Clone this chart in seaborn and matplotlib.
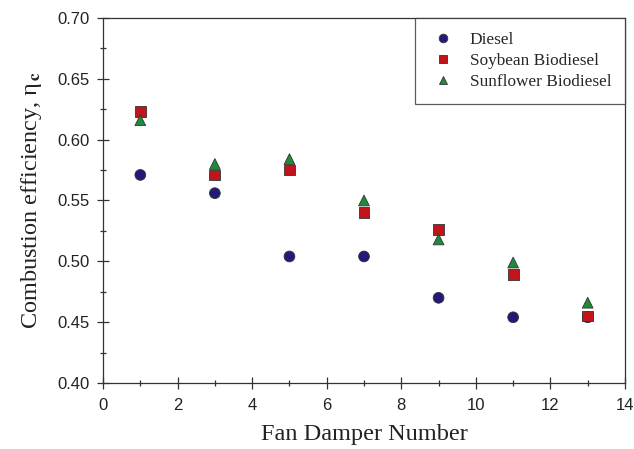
import numpy as np
import pandas as pd
import matplotlib.pyplot as plt
import seaborn as sns
from matplotlib.ticker import MultipleLocator

# Fan damper positions and combustion efficiency for each fuel
damper = [1, 3, 5, 7, 9, 11, 13]
diesel = [0.571, 0.556, 0.504, 0.504, 0.470, 0.454, 0.454]
soybean = [0.623, 0.571, 0.575, 0.540, 0.526, 0.489, 0.455]
sunflower = [0.616, 0.580, 0.584, 0.550, 0.518, 0.499, 0.466]
fuels = ['Diesel', 'Soybean Biodiesel', 'Sunflower Biodiesel']

df = pd.DataFrame({
    'damper': damper * 3,
    'eff': diesel + soybean + sunflower,
    'fuel': np.repeat(fuels, len(damper)),
})

sns.set_style('ticks')
plt.rcParams['font.family'] = ['Liberation Serif', 'DejaVu Serif']
plt.rcParams['mathtext.fontset'] = 'stix'

fig = plt.figure(figsize=(6.34, 4.49), dpi=100)
ax = fig.add_axes([0.1625, 0.147, 0.8233, 0.813])

palette = {'Diesel': '#221a78', 'Soybean Biodiesel': '#c3141c', 'Sunflower Biodiesel': '#1f8a3a'}
markers = {'Diesel': 'o', 'Soybean Biodiesel': 's', 'Sunflower Biodiesel': '^'}
sns.scatterplot(data=df, x='damper', y='eff', hue='fuel', style='fuel',
                palette=palette, markers=markers, hue_order=fuels, style_order=fuels,
                s=60, edgecolor='#333333', linewidth=0.6, ax=ax, zorder=3)

ax.set_xlim(0, 14)
ax.set_ylim(0.40, 0.70)
ax.xaxis.set_major_locator(MultipleLocator(2))
ax.xaxis.set_minor_locator(MultipleLocator(1))
ax.yaxis.set_major_locator(MultipleLocator(0.05))
ax.yaxis.set_minor_locator(MultipleLocator(0.025))
ax.yaxis.set_major_formatter(plt.FormatStrFormatter('%.2f'))
ax.tick_params(which='major', direction='inout', length=8, width=0.9, color='#333333')
ax.tick_params(which='minor', direction='inout', length=5, width=0.9, color='#333333')
ax.tick_params(axis='x', which='major', pad=7)
ax.tick_params(axis='y', which='major', pad=6)
for lab in ax.get_xticklabels() + ax.get_yticklabels():
    lab.set_family('Liberation Sans')
    lab.set_fontsize(12)
    lab.set_color('#222222')
for sp in ax.spines.values():
    sp.set_visible(True)
    sp.set_color('#333333')
    sp.set_linewidth(0.9)

ax.set_xlabel('Fan Damper Number', fontsize=17.5, color='#222222', labelpad=8)
ax.set_ylabel('Combustion efficiency, η$_{\\,\\mathbf{c}}$', fontsize=17.5, color='#222222', labelpad=9)

leg = ax.legend(loc='upper right', bbox_to_anchor=(1.0, 1.0), fontsize=12.4,
                frameon=True, fancybox=False, borderpad=0.8, labelspacing=0.3,
                handlelength=1.6, handletextpad=0.75, borderaxespad=0.0, markerscale=0.8)
leg.get_frame().set_edgecolor('#333333')
leg.get_frame().set_linewidth(0.9)
leg.set_title(None)

fig.savefig('out.png', dpi=100)
